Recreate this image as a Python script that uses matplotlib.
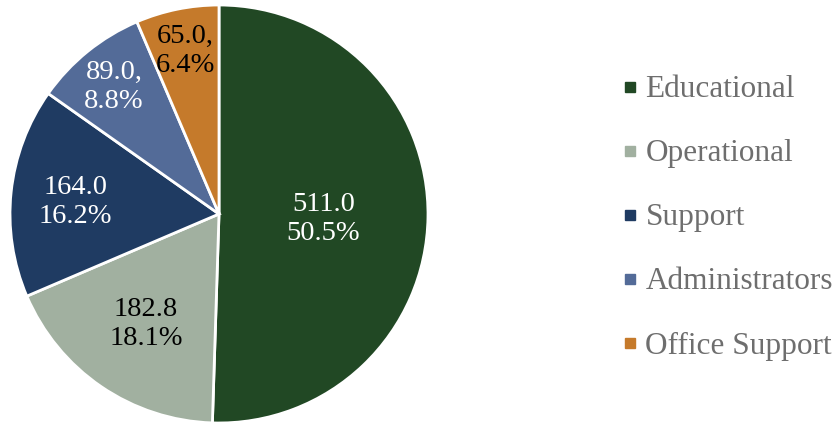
import numpy as np
import matplotlib.pyplot as plt
from matplotlib.lines import Line2D

categories = ["Educational", "Operational", "Support", "Administrators", "Office Support"]
values = [511.0, 182.8, 164.0, 89.0, 65.0]
percents = ["50.5%", "18.1%", "16.2%", "8.8%", "6.4%"]
separators = ["", "", "", ",", ","]
colors = ["#214824", "#a1b0a0", "#1f3b62", "#536b98", "#c57a2b"]
text_colors = ["white", "black", "white", "white", "black"]
label_dist = [0.50, 0.62, 0.69, 0.80, 0.81]

plt.rcParams["font.family"] = ["Liberation Serif", "DejaVu Serif"]

W, H = 840, 424
fig = plt.figure(figsize=(W / 100, H / 100), dpi=100)

# pie centre and radius in pixels
cx, cy, r = 219, 214, 209
lim = 1.05
side = 2 * r * lim
ax = fig.add_axes([(cx - side / 2) / W, ((H - cy) - side / 2) / H, side / W, side / H])

wedges, _ = ax.pie(values, colors=colors, startangle=90, counterclock=False,
                   wedgeprops=dict(edgecolor="white", linewidth=2.0))
ax.set_xlim(-lim, lim)
ax.set_ylim(-lim, lim)
ax.set_aspect("equal")
ax.axis("off")

for w, v, p, sep, tc, d in zip(wedges, values, percents, separators, text_colors, label_dist):
    ang = np.deg2rad((w.theta1 + w.theta2) / 2)
    ax.text(d * np.cos(ang), d * np.sin(ang) - 0.015, f"{v:.1f}{sep}\n{p}",
            ha="center", va="center", color=tc, fontsize=20.5, linespacing=1.2)

handles = [Line2D([], [], marker="s", linestyle="none", markersize=7,
                  markerfacecolor=c, markeredgecolor=c) for c in colors]
leg = fig.legend(handles, categories, loc="center left",
                 bbox_to_anchor=(622 / W, (H - 218) / H), frameon=False,
                 fontsize=22.5, labelspacing=1.12, handlelength=0.5,
                 handletextpad=0.25, borderpad=0, borderaxespad=0,
                 labelcolor="#6e6e6e")

fig.savefig("out.png", dpi=100)
